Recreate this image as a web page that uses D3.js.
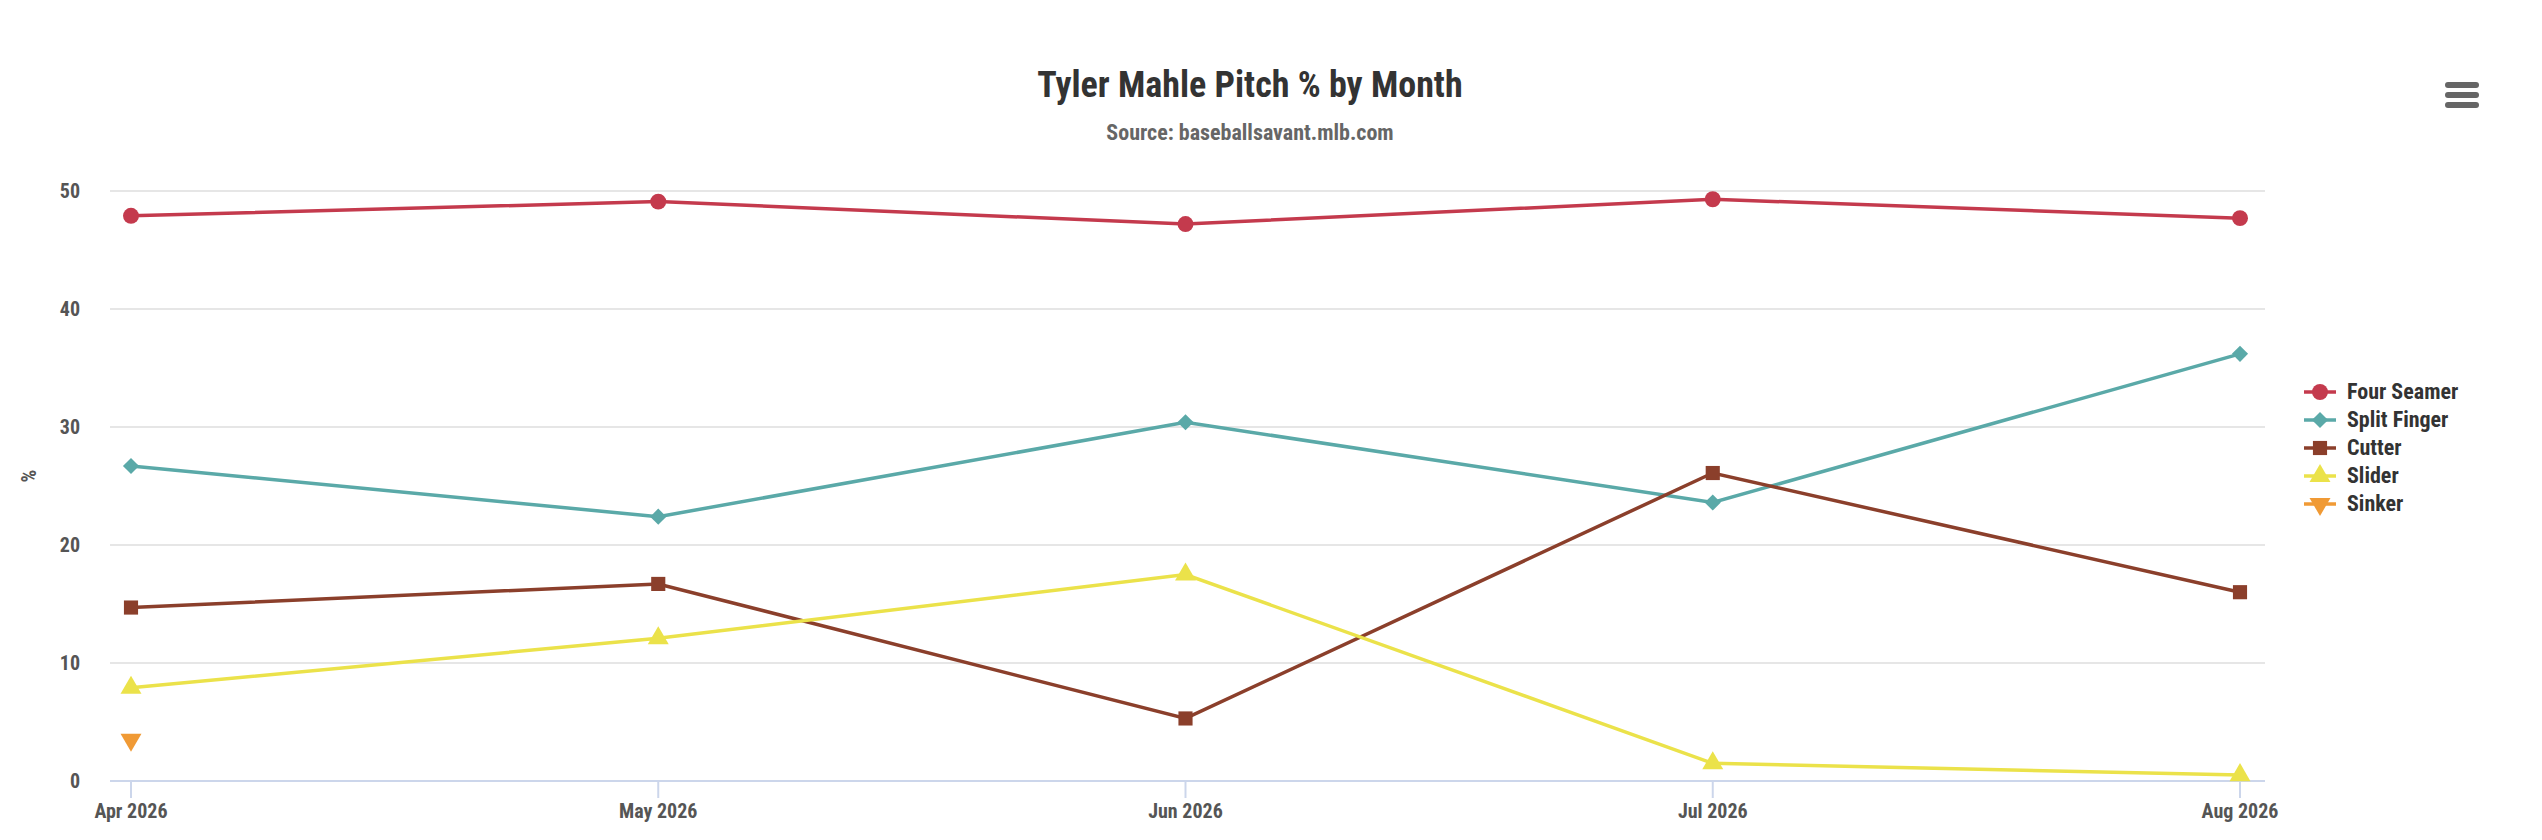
<!DOCTYPE html>
<html><head><meta charset="utf-8">
<script src="https://cdn.jsdelivr.net/npm/d3@7"></script>
<style>body{margin:0;background:#fff}text{font-family:"Liberation Sans Narrow","Roboto Condensed",Roboto,sans-serif;font-weight:bold}</style>
</head><body><svg id="c" width="2542" height="840"></svg>
<script>
const months=["Apr 2026","May 2026","Jun 2026","Jul 2026","Aug 2026"];
const fourSeamer=[47.9,49.1,47.2,49.3,47.7];
const splitFinger=[26.7,22.4,30.4,23.6,36.2];
const cutter=[14.7,16.7,5.3,26.1,16.0];
const slider=[7.9,12.1,17.5,1.5,0.5];
const sinker=[3.5,null,null,null,null];
const yTicks=[0,10,20,30,40,50];
const series=[
 {name:"Four Seamer",values:fourSeamer,color:"#c43a4d",sym:"circle"},
 {name:"Split Finger",values:splitFinger,color:"#5aa9a8",sym:"diamond"},
 {name:"Cutter",values:cutter,color:"#8b3f2b",sym:"square"},
 {name:"Slider",values:slider,color:"#ebe24a",sym:"up"},
 {name:"Sinker",values:sinker,color:"#f09a35",sym:"down"}];
const svg=d3.select("#c");
const x=d3.scalePoint().domain(months).range([131,2240]);
const y=d3.scaleLinear().domain([0,50]).range([781,191]);
svg.append("text").attr("x",1250).attr("y",97).attr("text-anchor","middle").attr("font-size",36).attr("fill","#333").text("Tyler Mahle Pitch % by Month");
svg.append("text").attr("x",1250).attr("y",140).attr("text-anchor","middle").attr("font-size",22).attr("fill","#666").text("Source: baseballsavant.mlb.com");
[0,1,2].forEach(i=>svg.append("rect").attr("x",2445).attr("y",82+i*10).attr("width",34).attr("height",6).attr("rx",3).attr("fill","#666"));
const g=svg.append("g");
g.selectAll("line.grid").data(yTicks).join("line").attr("x1",110).attr("x2",2265).attr("y1",d=>y(d)).attr("y2",d=>y(d)).attr("stroke",d=>d===0?"#ccd6eb":"#e6e6e6").attr("stroke-width",2);
g.selectAll("text.yt").data(yTicks).join("text").attr("x",80).attr("y",d=>y(d)+7).attr("text-anchor","end").attr("font-size",20).attr("fill","#555").text(d=>d);
g.selectAll("line.xt").data(months).join("line").attr("x1",d=>x(d)).attr("x2",d=>x(d)).attr("y1",782).attr("y2",798).attr("stroke","#ccd6eb").attr("stroke-width",2);
g.selectAll("text.xl").data(months).join("text").attr("x",d=>x(d)).attr("y",818).attr("text-anchor","middle").attr("font-size",20).attr("fill","#555").text(d=>d);
svg.append("text").attr("transform","translate(36,476) rotate(-90)").attr("text-anchor","middle").attr("font-size",20).attr("fill","#555").text("%");
function sym(s){
 if(s==="circle")return {d:d3.symbol(d3.symbolCircle,200)(),r:0};
 if(s==="diamond")return {d:d3.symbol(d3.symbolSquare,130)(),r:45};
 if(s==="square")return {d:d3.symbol(d3.symbolSquare,200)(),r:0};
 if(s==="up")return {d:d3.symbol(d3.symbolTriangle,190)(),r:0};
 return {d:d3.symbol(d3.symbolTriangle,190)(),r:180};
}
const line=d3.line().defined(d=>d!=null).x((d,i)=>x(months[i])).y(d=>y(d));
series.forEach(s=>{
 g.append("path").attr("d",line(s.values)).attr("fill","none").attr("stroke",s.color).attr("stroke-width",3.5);
 const m=sym(s.sym);
 s.values.forEach((v,i)=>{if(v==null)return;
  g.append("path").attr("d",m.d).attr("fill",s.color).attr("transform",`translate(${x(months[i])},${y(v)}) rotate(${m.r})`);});
});
const lg=svg.append("g");
series.forEach((s,i)=>{const yy=392+i*28;const m=sym(s.sym);
 lg.append("line").attr("x1",2304).attr("x2",2336).attr("y1",yy).attr("y2",yy).attr("stroke",s.color).attr("stroke-width",3.5);
 lg.append("path").attr("d",m.d).attr("fill",s.color).attr("transform",`translate(2320,${yy}) rotate(${m.r})`);
 lg.append("text").attr("x",2347).attr("y",yy+7).attr("font-size",22).attr("fill","#333").text(s.name);
});
</script></body></html>
